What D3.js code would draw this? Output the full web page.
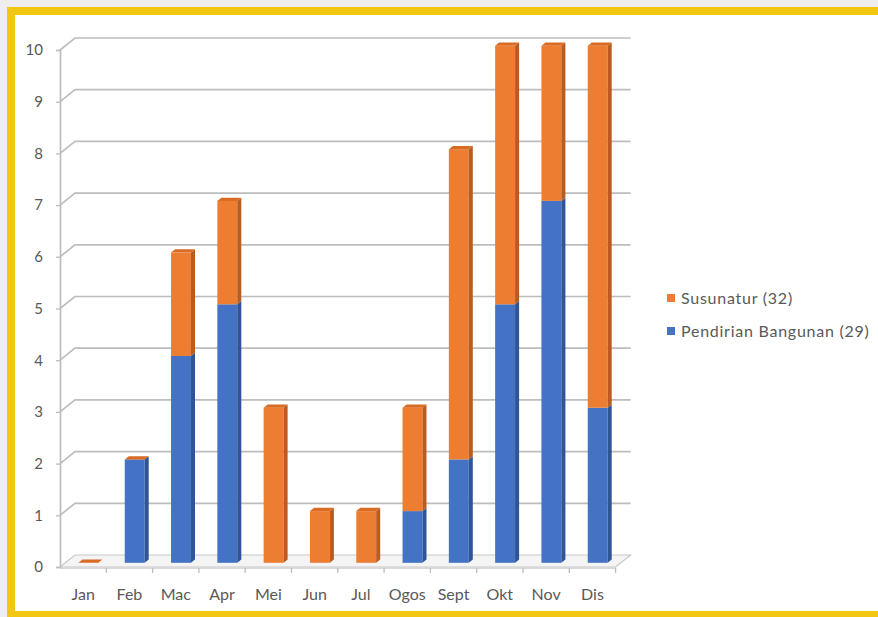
<!DOCTYPE html>
<html>
<head>
<meta charset="utf-8">
<script src="https://cdn.jsdelivr.net/npm/d3@7"></script>
<style>
  html, body { margin: 0; padding: 0; background: #eeeeee; }
  svg { display: block; }
  text { font-family: Lato, "Open Sans", sans-serif; fill: #595959; }
</style>
</head>
<body>
<svg id="chart" width="878" height="617"></svg>
<script>
// month categories and the two stacked series
const months = ['Jan', 'Feb', 'Mac', 'Apr', 'Mei', 'Jun', 'Jul', 'Ogos', 'Sept', 'Okt', 'Nov', 'Dis'];
const pendirian = [0, 2, 4, 5, 0, 0, 0, 1, 2, 5, 7, 3];
const susunatur = [0, 0, 2, 2, 3, 1, 1, 2, 6, 5, 3, 7];
const yTicks = [0, 1, 2, 3, 4, 5, 6, 7, 8, 9, 10];
const legendItems = ['Susunatur (32)', 'Pendirian Bangunan (29)'];

// face colours: front, side, top
const COLORS = {
  blue: { front: '#4472c4', side: '#2f5597', top: '#5b84cc' },
  orange: { front: '#ed7d31', side: '#b85d1f', top: '#d96b22' }
};

// pseudo 3d depth offset of the back wall
const DX = 15, DY = -12;
const F0 = 0.35, F1 = 0.62; // bar front / back depth fraction

const svg = d3.select('#chart');

// white card with yellow frame
svg.append('rect')
  .attr('x', 11).attr('y', 11)
  .attr('width', 900).attr('height', 604)
  .attr('fill', '#ffffff')
  .attr('stroke', '#f3c614')
  .attr('stroke-width', 8);

const x = d3.scaleBand()
  .domain(months)
  .range([60, 615.6])
  .paddingInner(0.57)
  .paddingOuter(0.285);

const y = d3.scaleLinear().domain([0, 10]).range([567, 50]);

const x0 = 60, x1 = 615.6;

// floor
const floor = svg.append('g');
floor.append('path')
  .attr('d', `M${x0},${y(0)} L${x0 + DX},${y(0) + DY} L${x1 + DX},${y(0) + DY} L${x1},${y(0)} Z`)
  .attr('fill', '#f4f4f4')
  .attr('stroke', '#c8c8c8')
  .attr('stroke-width', 1.2);
floor.append('rect')
  .attr('x', x0).attr('y', y(0))
  .attr('width', x1 - x0).attr('height', 2)
  .attr('fill', '#d9d9d9');

// back wall gridlines with the diagonal from the axis
svg.append('g')
  .selectAll('path')
  .data(yTicks.filter(d => d > 0))
  .enter()
  .append('path')
  .attr('d', d => `M${x0},${y(d)} L${x0 + DX},${y(d) + DY} L${x1 + DX},${y(d) + DY}`)
  .attr('fill', 'none')
  .attr('stroke', '#bdbdbd')
  .attr('stroke-width', 1.7);

// y axis
const yAxis = svg.append('g')
  .attr('transform', `translate(${x0},0)`)
  .call(d3.axisLeft(y).tickValues(yTicks).tickSize(4).tickPadding(13).tickFormat(d3.format('d')));
yAxis.select('.domain').attr('stroke', '#bdbdbd').attr('stroke-width', 1.7);
yAxis.selectAll('.tick line').attr('stroke', '#bdbdbd').attr('stroke-width', 1.3);
yAxis.selectAll('.tick text').style('font-size', '15px').attr('fill', '#595959');

// category ticks under the floor
svg.append('g')
  .selectAll('line')
  .data(d3.range(1, months.length + 1))
  .enter()
  .append('line')
  .attr('x1', i => x0 + i * x.step())
  .attr('x2', i => x0 + i * x.step())
  .attr('y1', y(0) + 1)
  .attr('y2', y(0) + 6)
  .attr('stroke', '#bdbdbd')
  .attr('stroke-width', 1.3);

// month labels
svg.append('g')
  .selectAll('text')
  .data(months)
  .enter()
  .append('text')
  .attr('x', d => x(d) + x.bandwidth() / 2)
  .attr('y', 600)
  .attr('text-anchor', 'middle')
  .style('font-size', '16px')
  .text(d => d);

// stacked 3d bars
const stackData = months.map((m, i) => ({ month: m, blue: pendirian[i], orange: susunatur[i] }));
const series = d3.stack().keys(['blue', 'orange'])(stackData);

const fx0 = DX * F0, fy0 = DY * F0;
const depthX = DX * (F1 - F0), depthY = DY * (F1 - F0);

const bars = svg.append('g');
series.forEach(s => {
  const c = COLORS[s.key];
  s.forEach(seg => {
    const m = seg.data.month;
    const bx = x(m) + fx0;
    const bw = x.bandwidth();
    const yTop = y(seg[1]) + fy0;
    const yBot = y(seg[0]) + fy0;
    if (seg[1] - seg[0] > 0) {
      bars.append('rect')
        .attr('x', bx).attr('y', yTop)
        .attr('width', bw).attr('height', yBot - yTop)
        .attr('fill', c.front);
      bars.append('path')
        .attr('d', `M${bx + bw},${yTop} L${bx + bw + depthX},${yTop + depthY} L${bx + bw + depthX},${yBot + depthY} L${bx + bw},${yBot} Z`)
        .attr('fill', c.side);
    }
    // the top series always carries the cap, even at zero height
    if (s.key === 'orange') {
      bars.append('path')
        .attr('d', `M${bx},${yTop} L${bx + depthX},${yTop + depthY} L${bx + bw + depthX},${yTop + depthY} L${bx + bw},${yTop} Z`)
        .attr('fill', c.top);
    }
  });
});

// legend
const legend = svg.append('g').attr('transform', 'translate(667,0)');
const legendColors = [COLORS.orange.front, COLORS.blue.front];
legendItems.forEach((label, i) => {
  const ly = 298 + i * 33;
  legend.append('rect')
    .attr('x', 0).attr('y', ly - 4)
    .attr('width', 8).attr('height', 8)
    .attr('fill', legendColors[i]);
  legend.append('text')
    .attr('x', 14).attr('y', ly + 5.5)
    .style('font-size', '16px')
    .style('letter-spacing', '0.75px')
    .text(label);
});
</script>
</body>
</html>
